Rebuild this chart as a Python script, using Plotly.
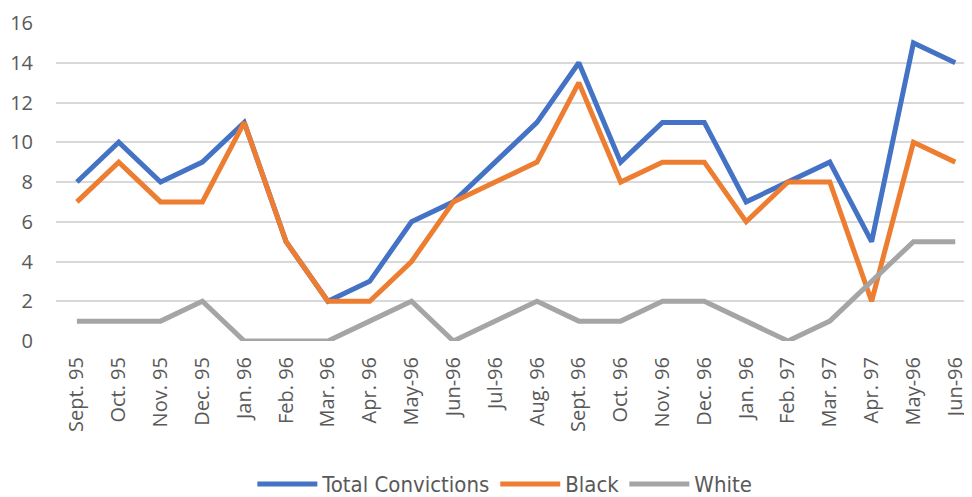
import plotly.graph_objects as go

# 月份标签（按原图顺序）
MONTHS = [
    "Sept. 95", "Oct. 95", "Nov. 95", "Dec. 95", "Jan. 96", "Feb. 96",
    "Mar. 96", "Apr. 96", "May-96", "Jun-96", "Jul-96", "Aug. 96",
    "Sept. 96", "Oct. 96", "Nov. 96", "Dec. 96", "Jan. 96", "Feb. 97",
    "Mar. 97", "Apr. 97", "May-96", "Jun-96",
]
TOTAL = [8, 10, 8, 9, 11, 5, 2, 3, 6, 7, 9, 11, 14, 9, 11, 11, 7, 8, 9, 5, 15, 14]
BLACK = [7, 9, 7, 7, 11, 5, 2, 2, 4, 7, 8, 9, 13, 8, 9, 9, 6, 8, 8, 2, 10, 9]
WHITE = [1, 1, 1, 2, 0, 0, 0, 1, 2, 0, 1, 2, 1, 1, 2, 2, 1, 0, 1, 3, 5, 5]

SERIES = [
    ("Total Convictions", TOTAL, "#4472C4"),
    ("Black", BLACK, "#ED7D31"),
    ("White", WHITE, "#A5A5A5"),
]

fig = go.Figure()
for name, vals, color in SERIES:
    fig.add_trace(go.Scatter(
        x=list(range(len(MONTHS))), y=vals, name=name, mode="lines",
        line=dict(color=color, width=5),
    ))

# 页面 body 默认有 8px 边距，所以整体尺寸减去 8
fig.update_layout(
    width=964, height=489,
    paper_bgcolor="white", plot_bgcolor="white",
    margin=dict(l=48, r=0, t=15, b=156, autoexpand=False),
    font=dict(family="Open Sans", color="#595959"),
    showlegend=True,
    legend=dict(
        orientation="h", x=0.49, xanchor="center", y=-0.45, yanchor="middle",
        font=dict(family="DejaVu Sans Condensed", size=22, color="#595959"),
        itemwidth=60, tracegroupgap=0,
    ),
    xaxis=dict(
        tickmode="array", tickvals=list(range(len(MONTHS))), ticktext=MONTHS,
        tickangle=-90, range=[-0.5, 21.4], showgrid=False, zeroline=False,
        tickfont=dict(size=20), showline=False, automargin=False,
        ticklabeloverflow="allow",
        ticks="outside", ticklen=7, tickcolor="rgba(0,0,0,0)",
    ),
    yaxis=dict(
        range=[0, 16], dtick=2, showgrid=True, gridcolor="#D9D9D9", gridwidth=1.5,
        zeroline=False, tickfont=dict(size=20), automargin=False,
        ticklabeloverflow="allow",
        ticks="outside", ticklen=18, tickcolor="rgba(0,0,0,0)",
    ),
)

fig.write_html("out.html")
